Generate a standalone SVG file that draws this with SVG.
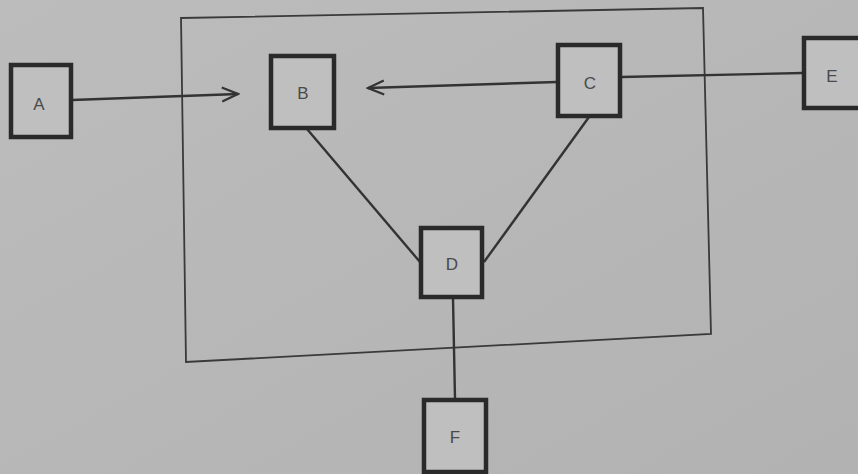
<svg xmlns="http://www.w3.org/2000/svg" width="858" height="474" viewBox="0 0 858 474">
<defs>
<style>
.node rect{fill:#bfbfbf;stroke:#2a2a2a;stroke-width:4.5}
.node text{font-family:"Liberation Sans",Arial,sans-serif;font-size:17px;fill:#4a4a4a;text-anchor:middle;dominant-baseline:central}
.conn line{stroke:#333;stroke-width:2.4;fill:none}
</style>
<marker id="open" viewBox="0 0 20 20" refX="18" refY="10" markerWidth="20" markerHeight="20" markerUnits="userSpaceOnUse" orient="auto">
<path d="M2,3 L18,10 L2,17" fill="none" stroke="#333" stroke-width="2.2"/>
</marker>
<linearGradient id="bg" x1="0" y1="0" x2="1" y2="1">
<stop offset="0" stop-color="#bcbcbc"/>
<stop offset="1" stop-color="#b2b2b2"/>
</linearGradient>
</defs>
<rect width="858" height="474" fill="url(#bg)"/>
<polygon id="boundary" points="181,18 703,8 711,334 186,362" fill="none" stroke="#3a3a3a" stroke-width="1.8"/>
<g class="conn">
<line x1="72" y1="100" x2="238" y2="94" marker-end="url(#open)"/>
<line x1="557" y1="82" x2="368" y2="88" marker-end="url(#open)"/>
<line x1="621" y1="77" x2="803" y2="73"/>
<line x1="307" y1="129" x2="420" y2="262"/>
<line x1="589" y1="117" x2="484" y2="262"/>
<line x1="453" y1="298" x2="455" y2="399"/>
</g>
<g id="A" class="node"><rect x="11" y="65" width="60" height="72"/><text x="39" y="104">A</text></g>
<g id="B" class="node"><rect x="271" y="56" width="63" height="72"/><text x="303" y="93">B</text></g>
<g id="C" class="node"><rect x="558" y="45" width="62" height="71"/><text x="590" y="83">C</text></g>
<g id="E" class="node"><rect x="804" y="38" width="58" height="70"/><text x="832" y="76">E</text></g>
<g id="D" class="node"><rect x="421" y="228" width="61" height="69"/><text x="452" y="264">D</text></g>
<g id="F" class="node"><rect x="424" y="400" width="62" height="72"/><text x="455" y="437">F</text></g>
</svg>
